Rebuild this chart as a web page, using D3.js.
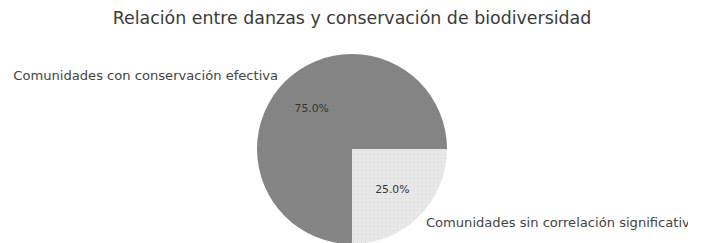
<!DOCTYPE html>
<html>
<head>
<meta charset="utf-8">
<script src="https://cdn.jsdelivr.net/npm/d3@7/dist/d3.min.js"></script>
<style>
  html, body { margin: 0; padding: 0; background: #fff; }
</style>
</head>
<body>
<div id="chart"></div>
<script>
// ── Canvas
const W = 704, H = 243;

// ── Data
const categories = ['Comunidades con conservación efectiva', 'Comunidades sin correlación significativa'];
const values = [75, 25];
const colors = ['#858585', '#e8e8e8'];
const title = 'Relación entre danzas y conservación de biodiversidad';

const FONT = 'DejaVu Sans, sans-serif';
const cx = 352, cy = 149, R = 95;

const svg = d3.select('#chart').append('svg')
  .attr('width', W).attr('height', H)
  .style('display', 'block');

// dotted texture like the scanned original
const defs = svg.append('defs');
colors.forEach((c, i) => {
  const p = defs.append('pattern')
    .attr('id', 'tex' + i)
    .attr('width', 4).attr('height', 4)
    .attr('patternUnits', 'userSpaceOnUse');
  p.append('rect').attr('width', 4).attr('height', 4).attr('fill', c);
  p.append('rect').attr('x', 1).attr('y', 1).attr('width', 1).attr('height', 1)
    .attr('fill', d3.color(c).darker(0.25));
});

defs.append('clipPath').attr('id', 'clip')
  .append('rect').attr('width', 688).attr('height', H);

const root = svg.append('g').attr('clip-path', 'url(#clip)');

// Title
root.append('text')
  .attr('x', cx).attr('y', 24)
  .attr('text-anchor', 'middle')
  .attr('fill', '#3a3a3a')
  .attr('font-size', '17.4px')
  .attr('font-family', FONT)
  .text(title);

// matplotlib-style: start at east (3 o'clock), counterclockwise
const pie = d3.pie().sort(null)
  .startAngle(Math.PI / 2)
  .endAngle(Math.PI / 2 - 2 * Math.PI);
const arcs = pie(values);

const arc = d3.arc().innerRadius(0).outerRadius(R);
const labelArc = d3.arc().innerRadius(R * 1.1).outerRadius(R * 1.1);
const pctArc = d3.arc().innerRadius(R * 0.6).outerRadius(R * 0.6);

const g = root.append('g').attr('transform', `translate(${cx},${cy})`);

g.selectAll('path.slice')
  .data(arcs)
  .enter().append('path')
  .attr('class', 'slice')
  .attr('d', arc)
  .attr('fill', (d, i) => `url(#tex${i})`);

g.selectAll('text.pct')
  .data(arcs)
  .enter().append('text')
  .attr('class', 'pct')
  .attr('transform', d => `translate(${pctArc.centroid(d)})`)
  .attr('text-anchor', 'middle')
  .attr('dy', '0.35em')
  .attr('fill', '#333')
  .attr('font-size', '10.8px')
  .attr('font-family', FONT)
  .text(d => (d.value / d3.sum(values) * 100).toFixed(1) + '%');

g.selectAll('text.lbl')
  .data(arcs)
  .enter().append('text')
  .attr('class', 'lbl')
  .attr('transform', d => `translate(${labelArc.centroid(d)})`)
  .attr('text-anchor', d => labelArc.centroid(d)[0] < 0 ? 'end' : 'start')
  .attr('dy', '0.35em')
  .attr('fill', '#444')
  .attr('font-size', '13.1px')
  .attr('font-family', FONT)
  .text((d, i) => categories[i]);
</script>
</body>
</html>
